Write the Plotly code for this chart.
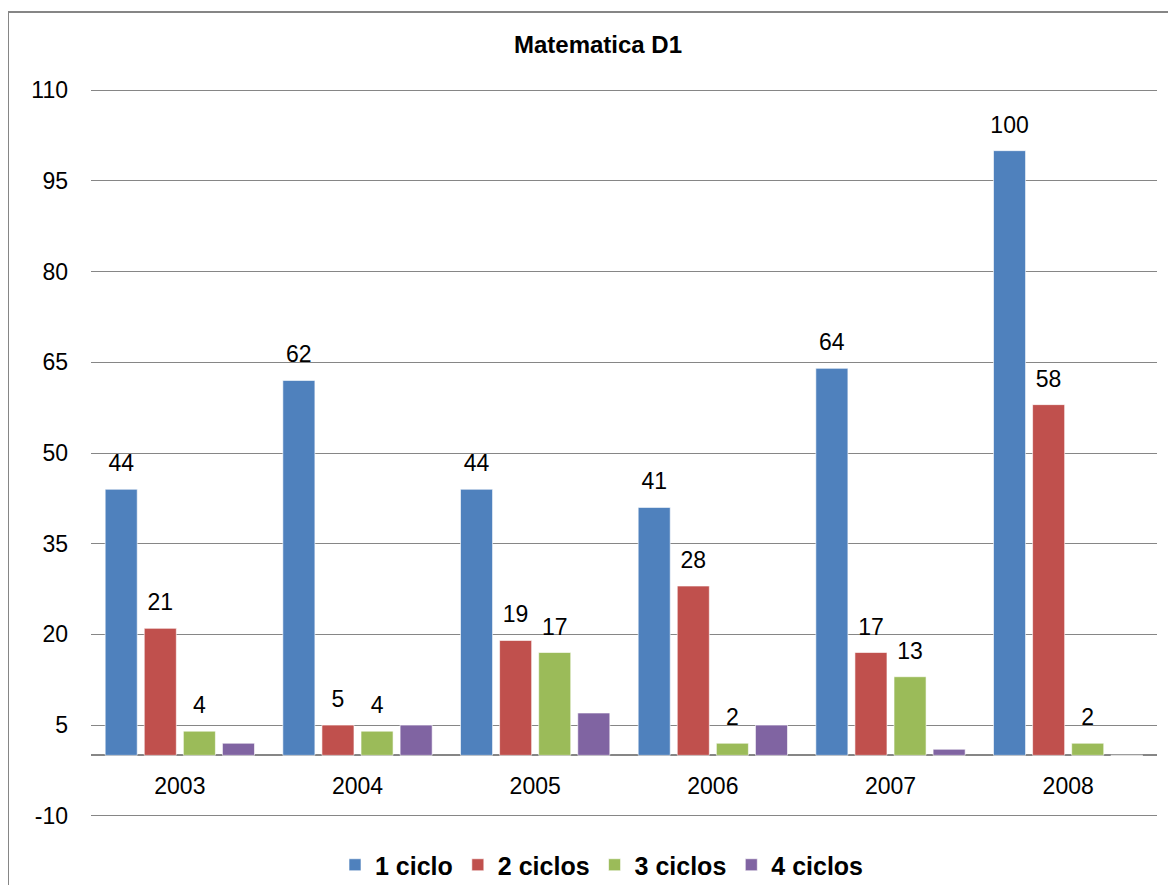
import plotly.graph_objects as go

years = ["2003", "2004", "2005", "2006", "2007", "2008"]
series_names = ["1 ciclo", "2 ciclos", "3 ciclos", "4 ciclos"]
ciclo1 = [44, 62, 44, 41, 64, 100]
ciclo2 = [21, 5, 19, 28, 17, 58]
ciclo3 = [4, 4, 17, 2, 13, 2]
ciclo4 = [2, 5, 7, 5, 1, 0]
show_labels = [True, True, True, False]
colors = ["#4F81BD", "#C0504D", "#9BBB59", "#8064A2"]
y_ticks = [-10, 5, 20, 35, 50, 65, 80, 95, 110]

OFF = 8  # page body margin
W, H = 1176 - 2 * OFF, 893 - 2 * OFF
ml, mt = 91 - OFF, 89 - OFF
mr = W - (1157 - OFF)
mb = H - (817 - OFF)
ymin, ymax = -10, 110
pad = 0.2
GAP = 0.12

FONT = "Liberation Sans, Arial"

fig = go.Figure()
all_vals = [ciclo1, ciclo2, ciclo3, ciclo4]
for name, vals, col in zip(series_names, all_vals, colors):
    fig.add_trace(go.Bar(
        x=years, y=vals, name=name,
        marker=dict(color=col, line=dict(color="rgba(255,255,255,0.6)", width=1)),
        textposition="none",
    ))
# value labels, grouped the same way as the bars
for name, vals, lab in zip(series_names, all_vals, show_labels):
    fig.add_trace(go.Scatter(
        x=years, y=vals, mode="markers+text",
        text=[str(v) for v in vals] if lab else [""] * len(vals),
        textposition="top center",
        marker=dict(size=18, color="rgba(0,0,0,0)"),
        textfont=dict(family=FONT, size=23, color="#000000"),
        showlegend=False, hoverinfo="skip", cliponaxis=False,
        offsetgroup="lab_" + name, alignmentgroup="labels",
    ))

pw = W - ml - mr
ph = H - mt - mb
zero_pos = (0 - (ymin - pad)) / ((ymax + pad) - (ymin - pad))

fig.update_layout(
    width=W, height=H,
    margin=dict(l=ml, r=mr, t=mt, b=mb, autoexpand=False),
    paper_bgcolor="white", plot_bgcolor="white",
    barmode="group", bargap=GAP, bargroupgap=0.18,
    scattermode="group", scattergap=GAP,
    font=dict(family=FONT, size=23, color="#000000"),
    title=dict(text="<b>Matematica D1</b>", x=(598 - OFF) / W, xref="container", xanchor="center",
               y=1 - (45 - OFF) / H, yref="container", yanchor="middle",
               font=dict(family=FONT, size=24, color="#000000")),
    xaxis=dict(anchor="free", position=zero_pos, showline=False, showgrid=False,
               ticks="", tickfont=dict(size=23), ticklabelstandoff=15, automargin=False),
    yaxis=dict(range=[ymin - pad, ymax + pad], tickmode="array", tickvals=y_ticks,
               ticktext=[str(t) for t in y_ticks],
               showgrid=True, gridcolor="#868686", gridwidth=1,
               zeroline=True, zerolinecolor="#868686", zerolinewidth=1.5,
               showline=False, ticks="", ticklabelstandoff=22,
               tickfont=dict(size=23), automargin=False),
    legend=dict(orientation="h", xref="container", yref="container",
                x=(602 - OFF) / W, xanchor="center",
                y=1 - (865 - OFF) / H, yanchor="middle",
                font=dict(family=FONT, size=25, color="#000000", weight="bold"),
                itemwidth=30, traceorder="normal"),
    showlegend=True,
)

fig.add_shape(type="rect", xref="paper", yref="paper",
              x0=(0 - ml) / pw, x1=(W + 20 - ml) / pw,
              y0=(H - mb - (H + 20)) / ph, y1=(H - mb - (12 - OFF)) / ph,
              line=dict(color="#868686", width=2), fillcolor="rgba(0,0,0,0)", layer="below")

fig.write_html("out.html")
